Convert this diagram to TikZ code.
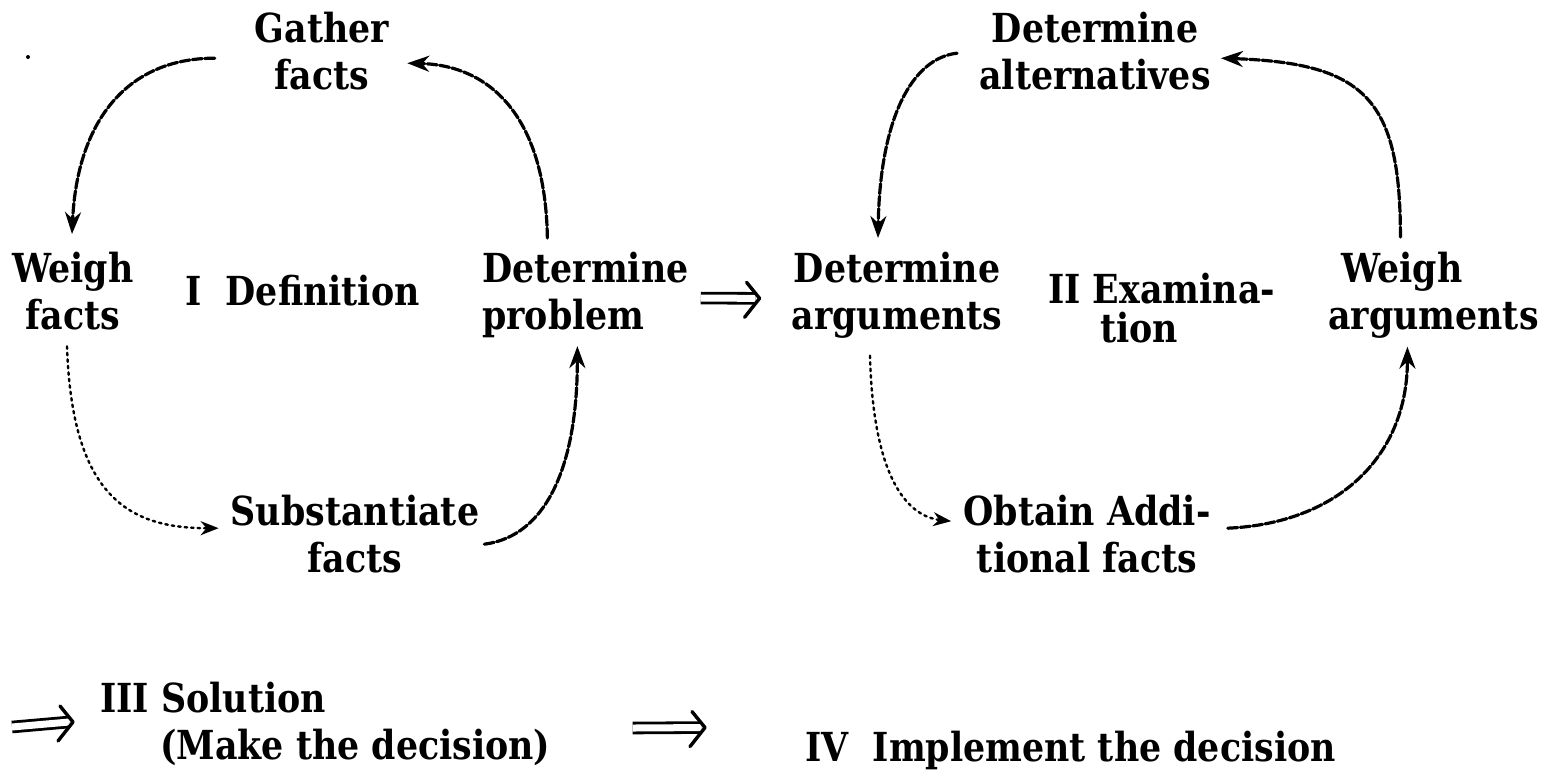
\documentclass[tikz,border=0pt]{standalone}
\usepackage{fontspec}
\setmainfont{DejaVu Serif}[FakeStretch=0.87]
\usetikzlibrary{arrows.meta}
\begin{document}
\begin{tikzpicture}[x=1pt,y=-1pt,
  lbl/.style={inner sep=0pt, font=\fontsize{40}{47}\selectfont\bfseries, align=center},
  flow/.style={line width=3.2pt, line cap=round, dash pattern=on 10pt off 2.5pt,
    -{Stealth[length=22pt,width=16pt]}},
  dotflow/.style={line width=2.4pt, line cap=round, dash pattern=on 2.5pt off 4pt,
    -{Stealth[length=18pt,width=14pt]}},
  shaft/.style={double, double distance=7pt, line width=2.8pt},
  chevron/.style={line width=3.4pt, line cap=round, line join=round}
]
\useasboundingbox (0,0) rectangle (1551,772);
\fill[white] (0,0) rectangle (1551,772);

% phase I: definition cycle
\node[lbl, anchor=north] (gather) at (322,12) {Gather\\facts};
\node[lbl, anchor=north] (weigh) at (73,252) {Weigh\\facts};
\node[lbl, anchor=north west] (defn) at (185,275) {I\ \ Definition};
\node[lbl, anchor=north west, align=left] (problem) at (482,252) {Determine\\problem};
\node[lbl, anchor=north] (subst) at (355,495) {Substantiate\\facts};

% phase II: examination cycle
\node[lbl, anchor=north] (alts) at (1095,12) {Determine\\alternatives};
\node[lbl, anchor=north] (args) at (897,252) {Determine\\arguments};
\node[lbl, anchor=north west, align=left] (exam) at (1048,273) {II Examina-\\[-8pt]\hspace*{52pt}tion};
\node[lbl, anchor=north west, align=left] (wargs) at (1328,252) {\hspace*{13pt}Weigh\\arguments};
\node[lbl, anchor=north] (obtain) at (1087,495) {Obtain Addi-\\tional facts};

% phases III and IV
\node[lbl, anchor=north west, align=left] (sol) at (100,682) {III Solution\\\hspace*{60pt}(Make the decision)};
\node[lbl, anchor=north west] (impl) at (805,731) {IV\ \ Implement the decision};

\fill (28,57) circle (2);

% cycle I connectors
\draw[flow] ([shift={(-40,7)}]gather.west) .. controls +(-90,0) and +(5,-110) .. ([shift={(-1,-18)}]weigh.north);
\draw[flow] ([shift={(-38,-14)}]problem.north) .. controls +(-2,-125) and +(80,2) .. ([shift={(18,12)}]gather.east);
\draw[dotflow] ([shift={(-6,16)}]weigh.south) .. controls +(5,150) and +(-90,0) .. ([shift={(-12,-6)}]subst.west);
\draw[flow] ([shift={(5,10)}]subst.east) .. controls +(62,-8) and +(0,120) .. ([shift={(-8,8)}]problem.south);

% cycle II connectors
\draw[flow] ([shift={(-22,2)}]alts.west) .. controls +(-45,5) and +(2,-120) .. ([shift={(-19,-14)}]args.north);
\draw[flow] ([shift={(-33,-15)}]wargs.north) .. controls +(0,-137) and +(145,5) .. ([shift={(10,7)}]alts.east);
\draw[dotflow] ([shift={(-27,17)}]args.south) .. controls +(3,120) and +(-45,-5) .. ([shift={(-12,-13)}]obtain.west);
\draw[flow] ([shift={(17,-6)}]obtain.east) .. controls +(110,-5) and +(0,110) .. ([shift={(-26,8)}]wargs.south);

% phase transitions: double shafts with a chevron head
\coordinate (entry) at (12,727);
\coordinate (t1s) at ([shift={(12,3)}]problem.east);
\coordinate (t1e) at ([shift={(-32,3)}]args.west);
\coordinate (t2e) at ([shift={(-27,-2)}]sol.west);
\coordinate (t3s) at ([shift={(82,4)}]sol.east);
\coordinate (t3e) at ([shift={(-100,-23)}]impl.west);
\foreach \s/\e in {t1s/t1e, entry/t2e, t3s/t3e} {
  \draw[shaft] (\s) -- ([xshift=-4]\e);
  \draw[chevron] ([shift={(-13,-16)}]\e) -- (\e) -- ([shift={(-15,19)}]\e);
}
\end{tikzpicture}
\end{document}
